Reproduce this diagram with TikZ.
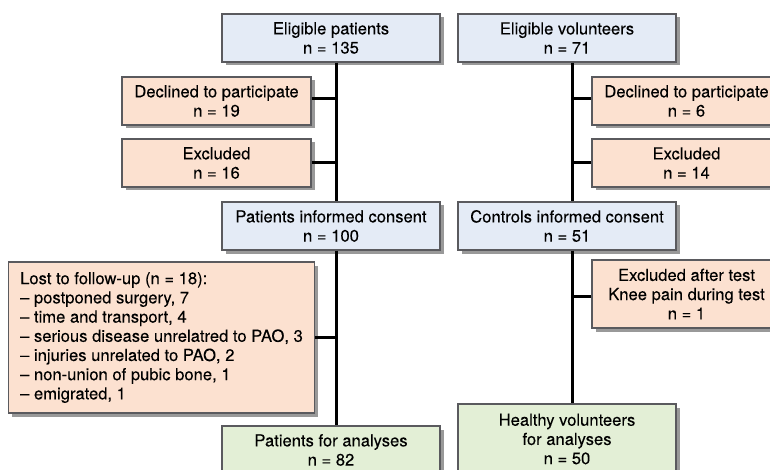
\documentclass[tikz,border=0pt]{standalone}
\usepackage{fontspec}
\setmainfont{TeX Gyre Heros}[FakeBold=0.1]
\usetikzlibrary{shadows}

\definecolor{boxBlue}{HTML}{E4EBF6}
\definecolor{boxOrange}{HTML}{FCE1D0}
\definecolor{boxGreen}{HTML}{E3EFD6}
\definecolor{boxLine}{HTML}{5A5A5E}

\tikzset{
    box/.style={draw=boxLine, line width=1.1pt, inner sep=0pt, align=center,
        font=\fontsize{16.6}{19.2}\selectfont,
        drop shadow={shadow xshift=3.5pt, shadow yshift=-3.5pt, opacity=0.4, fill=black}},
    bluebox/.style={box, fill=boxBlue, minimum width=218pt, minimum height=48pt},
    orangebox/.style={box, fill=boxOrange, minimum width=189pt, minimum height=48pt},
    greenbox/.style={box, fill=boxGreen, minimum width=218pt},
    flow/.style={line width=3pt, black}
}

\begin{document}
\begin{tikzpicture}[x=1pt, y=-1pt]

    \useasboundingbox (0,0) rectangle (770,470);

    %% ------
    %% Boxes are placed on fixed coordinates (pixels of the figure)
    %% the trunk lines sit 5pt right of the box centres
    %% ----

    % patients column
    \node[bluebox] (pel) at (331, 38) {Eligible patients\\n = 135};
    \node[orangebox] (pdec) at (216.5, 101) {Declined to participate\\n = 19};
    \node[orangebox] (pexc) at (216.5, 163) {Excluded\\n = 16};
    \node[bluebox] (pcon) at (331, 226) {Patients informed consent\\n = 100};
    \node[box, fill=boxOrange, minimum width=301pt, minimum height=151pt,
          align=left, inner xsep=12pt] (plost) at (161.5, 337.5)
        {Lost to follow-up (n = 18):\\
         – postponed surgery, 7\\
         – time and transport, 4\\
         – serious disease unrelatred to PAO, 3\\
         – injuries unrelated to PAO, 2\\
         – non-union of pubic bone, 1\\
         – emigrated, 1};
    \node[greenbox, minimum height=48pt] (pana) at (331, 450) {Patients for analyses\\n = 82};

    % volunteers column
    \node[bluebox] (vel) at (567, 38) {Eligible volunteers\\n = 71};
    \node[orangebox] (vdec) at (686.5, 101) {Declined to participate\\n = 6};
    \node[orangebox] (vexc) at (686.5, 163) {Excluded\\n = 14};
    \node[bluebox] (vcon) at (567, 226) {Controls informed consent\\n = 51};
    \node[orangebox, minimum height=68pt] (vtest) at (686.5, 294)
        {Excluded after test\\Knee pain during test\\n = 1};
    \node[greenbox, minimum height=70pt] (vana) at (567, 439)
        {Healthy volunteers\\for analyses\\n = 50};

    % trunks
    \coordinate (pt) at ([xshift=5pt]pel.south);
    \coordinate (vt) at ([xshift=5pt]vel.south);
    \draw[flow] (pt) -- (pt |- pcon.north);
    \draw[flow] (pt |- pcon.south) -- (pt |- pana.north);
    \draw[flow] (vt) -- (vt |- vcon.north);
    \draw[flow] (vt |- vcon.south) -- (vt |- vana.north);

    % branches
    \draw[flow] ([yshift=2pt]pdec.east) -- ([yshift=2pt]pdec.east -| pt);
    \draw[flow] (pexc.east) -- (pexc.east -| pt);
    \draw[flow] (plost.east) -- (plost.east -| pt);
    \draw[flow] ([yshift=2pt]vdec.west) -- ([yshift=2pt]vdec.west -| vt);
    \draw[flow] (vexc.west) -- (vexc.west -| vt);
    \draw[flow] ([yshift=-2pt]vtest.west) -- ([yshift=-2pt]vtest.west -| vt);

\end{tikzpicture}
\end{document}
